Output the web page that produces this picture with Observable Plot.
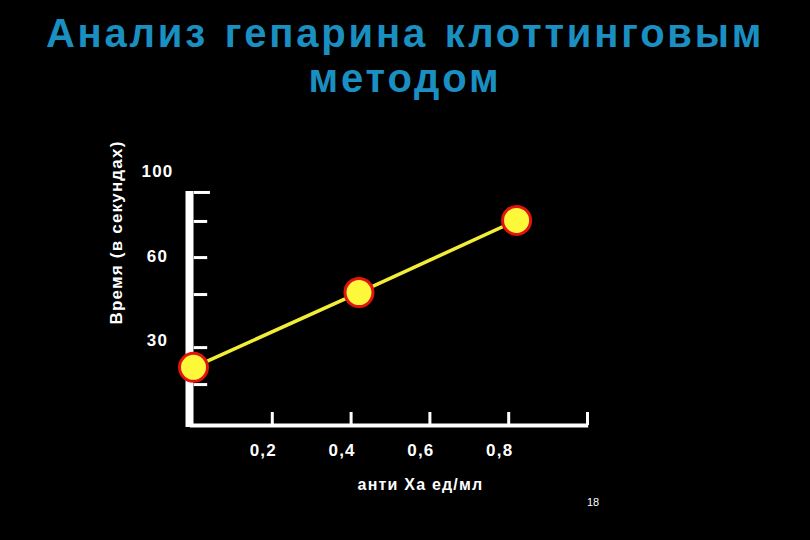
<!DOCTYPE html>
<html><head><meta charset="utf-8">
<script src="https://cdn.jsdelivr.net/npm/d3@7"></script>
<script src="https://cdn.jsdelivr.net/npm/@observablehq/plot@0.6"></script>
<style>
body{margin:0;background:#000;}
#wrap{position:relative;width:810px;height:540px;background:#000;overflow:hidden;font-family:"Liberation Sans",Arial,sans-serif;}
#title{position:absolute;left:0;top:11px;width:810px;text-align:center;color:#1a8fc1;font-weight:bold;font-size:40px;line-height:45px;letter-spacing:2.8px;word-spacing:3px;margin:0;}
#chart{position:absolute;left:0;top:0;}
#chart svg text{letter-spacing:1.2px;}
#page{position:absolute;left:587px;top:496px;color:#fff;font-size:11px;font-family:"Liberation Sans",Arial,sans-serif;}
</style></head><body>
<div id="wrap">
  <div id="chart"></div>
  <h1 id="title">Анализ гепарина клоттинговым<br>методом</h1>
  <div id="page">18</div>
</div>
<script>
// Data
const doses = [0, 0.42, 0.82];          // анти Ха ед/мл
const times = [20.6, 47.1, 76.9];       // seconds
const xTickValues = [0.2, 0.4, 0.6, 0.8, 1.0];
const xLabelValues = [0.2, 0.4, 0.6, 0.8];
const xTickLabels = ["0,2", "0,4", "0,6", "0,8"];
const yScaleBreaks = [0, 30, 60, 100];  // equally spaced on the slide
const yTickMarks = [14.5, 27.6, 46.4, 59.5, 76.4, 90.1];
const yLabelValues = [30, 60, 100];
const yTickLabels = ["30", "60", "100"];
const xTitle = "анти Ха ед/мл";
const yTitle = "Время (в секундах)";

const data = doses.map((d, i) => ({dose: d, time: times[i]}));
const topTick = d3.max(yTickMarks);

const chart = Plot.plot({
  width: 810,
  height: 540,
  marginLeft: 193,
  marginRight: 223,
  marginTop: 171,
  marginBottom: 115,
  style: {background: "#000", color: "#fff", fontFamily: "'Liberation Sans', Arial, sans-serif"},
  x: {domain: [0, 1], axis: null},
  y: {type: "linear", domain: yScaleBreaks, axis: null},
  marks: [
    Plot.ruleX([0], {y1: -0.7, y2: 90.6, stroke: "#fff", strokeWidth: 8, dx: -4}),
    Plot.ruleY([0], {x1: -0.008, x2: 1.003, stroke: "#fff", strokeWidth: 4}),
    Plot.ruleX(xTickValues, {x: d => d, y1: 0, y2: 4.6, stroke: "#fff", strokeWidth: 3}),
    Plot.ruleY(yTickMarks, {y: d => d, x1: 0.002, x2: d => d === topTick ? 0.043 : 0.036, stroke: "#fff", strokeWidth: 3}),
    Plot.text(yLabelValues, {x: 0, y: d => d, text: (d, i) => yTickLabels[i], dx: -36, textAnchor: "middle", fill: "#fff", fontSize: 17, fontWeight: "bold"}),
    Plot.text(xLabelValues, {x: d => d, y: 0, text: (d, i) => xTickLabels[i], dx: -9, dy: 25, textAnchor: "middle", fill: "#fff", fontSize: 17, fontWeight: "bold"}),
    Plot.text([xTitle], {frameAnchor: "bottom", text: d => d, dx: 30, dy: 64, textAnchor: "middle", fill: "#fff", fontSize: 16, fontWeight: "bold"}),
    Plot.text([yTitle], {frameAnchor: "left", text: d => d, rotate: -90, dx: -77, dy: -66, textAnchor: "middle", fill: "#fff", fontSize: 17, fontWeight: "bold"}),
    Plot.line(data, {x: "dose", y: "time", stroke: "#f2ee36", strokeWidth: 3.5}),
    Plot.dot(data, {x: "dose", y: "time", r: 14, fill: "#fdf83a", stroke: "#e3140e", strokeWidth: 3})
  ]
});
document.getElementById("chart").appendChild(chart);
</script>
</body></html>
